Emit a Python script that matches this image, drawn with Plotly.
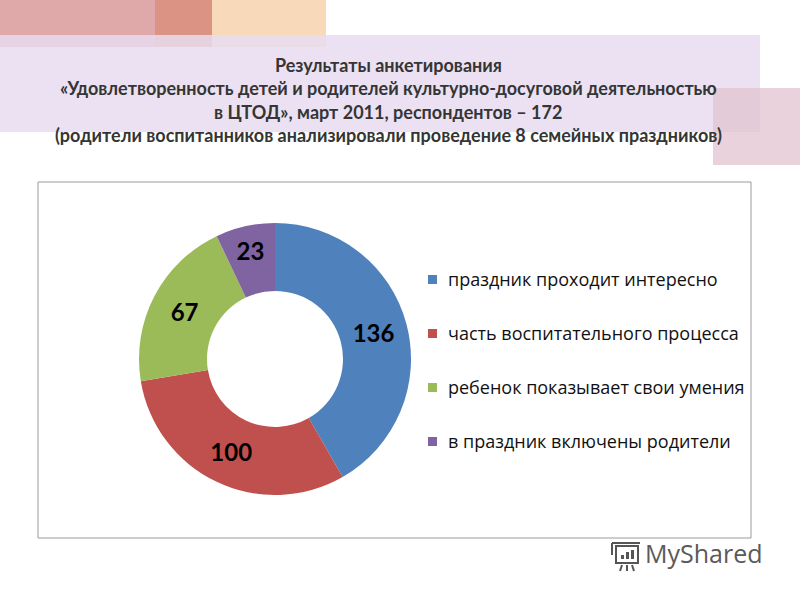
import plotly.graph_objects as go

title_lines = [
    "Результаты анкетирования",
    "«Удовлетворенность детей и родителей культурно-досуговой деятельностью",
    "в ЦТОД», март 2011, респондентов – 172",
    "(родители воспитанников анализировали проведение 8 семейных праздников)",
]
categories = [
    "праздник проходит интересно",
    "часть воспитательного процесса",
    "ребенок показывает свои умения",
    "в праздник включены родители",
]
values = [136, 100, 67, 23]
colors = ["#4f81bd", "#c0504d", "#9bbb59", "#8064a2"]

W, H = 800, 600


def px(x):
    return x / W


def py(y):
    return 1 - y / H


fig = go.Figure(go.Pie(
    labels=categories,
    values=values,
    hole=0.5,
    sort=False,
    direction="clockwise",
    rotation=0,
    marker=dict(colors=colors, line=dict(width=0)),
    texttemplate="%{value}",
    textposition="inside",
    insidetextorientation="horizontal",
    textfont=dict(family="Lato", size=24, color="#000000", weight="bold"),
    domain=dict(x=[px(139), px(411)], y=[py(495), py(223)]),
    showlegend=False,
    hoverinfo="label+value",
))

shapes = [
    # decorative blocks at the top
    dict(type="rect", x0=px(0), x1=px(155), y0=py(47), y1=py(0), fillcolor="#dfa9a9", line_width=0, layer="below"),
    dict(type="rect", x0=px(155), x1=px(212), y0=py(47), y1=py(0), fillcolor="#db9383", line_width=0, layer="below"),
    dict(type="rect", x0=px(212), x1=px(326), y0=py(47), y1=py(0), fillcolor="#f8dabb", line_width=0, layer="below"),
    dict(type="rect", x0=px(0), x1=px(760), y0=py(132), y1=py(35), fillcolor="#e8dcf0", opacity=0.85, line_width=0, layer="below"),
    dict(type="rect", x0=px(713), x1=px(800), y0=py(165), y1=py(88), fillcolor="#e2c3cf", opacity=0.75, line_width=0, layer="below"),
    # chart frame
    dict(type="rect", x0=px(38), x1=px(751), y0=py(538), y1=py(182), fillcolor="rgba(0,0,0,0)", line=dict(color="#9a9a9a", width=1)),
    # watermark icon
    dict(type="rect", x0=px(616), x1=px(638), y0=py(563), y1=py(546), fillcolor="rgba(0,0,0,0)", line=dict(color="#555555", width=2)),
    dict(type="line", x0=px(612), x1=px(640), y0=py(543), y1=py(543), line=dict(color="#555555", width=2)),
    dict(type="line", x0=px(612), x1=px(612), y0=py(543), y1=py(555), line=dict(color="#555555", width=2)),
    dict(type="rect", x0=px(621), x1=px(624), y0=py(559), y1=py(555), fillcolor="#555555", line_width=0),
    dict(type="rect", x0=px(626), x1=px(629), y0=py(559), y1=py(552), fillcolor="#555555", line_width=0),
    dict(type="rect", x0=px(631), x1=px(634), y0=py(559), y1=py(550), fillcolor="#555555", line_width=0),
    dict(type="line", x0=px(622), x1=px(620), y0=py(565), y1=py(571), line=dict(color="#555555", width=2)),
    dict(type="line", x0=px(627), x1=px(627), y0=py(565), y1=py(571), line=dict(color="#555555", width=2)),
    dict(type="line", x0=px(632), x1=px(634), y0=py(565), y1=py(571), line=dict(color="#555555", width=2)),
]

annotations = []
for i, line in enumerate(title_lines):
    annotations.append(dict(
        x=px(388), y=py(65 + i * 23.3), xref="paper", yref="paper",
        text=line, showarrow=False, xanchor="center", yanchor="middle",
        font=dict(family="Lato", size=18, color="#353535", weight="bold"),
    ))

# legend built from categories / colors
for i, (cat, col) in enumerate(zip(categories, colors)):
    yc = 279 + i * 54
    shapes.append(dict(type="rect", x0=px(428), x1=px(437), y0=py(yc + 5), y1=py(yc - 4),
                       fillcolor=col, line_width=0))
    annotations.append(dict(
        x=px(446), y=py(yc), xref="paper", yref="paper", text=cat, showarrow=False,
        xanchor="left", yanchor="middle",
        font=dict(family="Open Sans", size=18, color="#111111"),
    ))

annotations.append(dict(
    x=px(643), y=py(553), xref="paper", yref="paper", text="MyShared", showarrow=False,
    xanchor="left", yanchor="middle",
    font=dict(family="Open Sans", size=25, color="#5a5a5a"),
))

fig.update_layout(
    width=W, height=H,
    margin=dict(l=0, r=0, t=0, b=0),
    paper_bgcolor="#ffffff",
    plot_bgcolor="#ffffff",
    shapes=shapes,
    annotations=annotations,
)

fig.write_html(
    "out.html",
    config={"displayModeBar": False},
    post_script="document.body.style.margin='0';document.body.style.overflow='hidden';",
)
